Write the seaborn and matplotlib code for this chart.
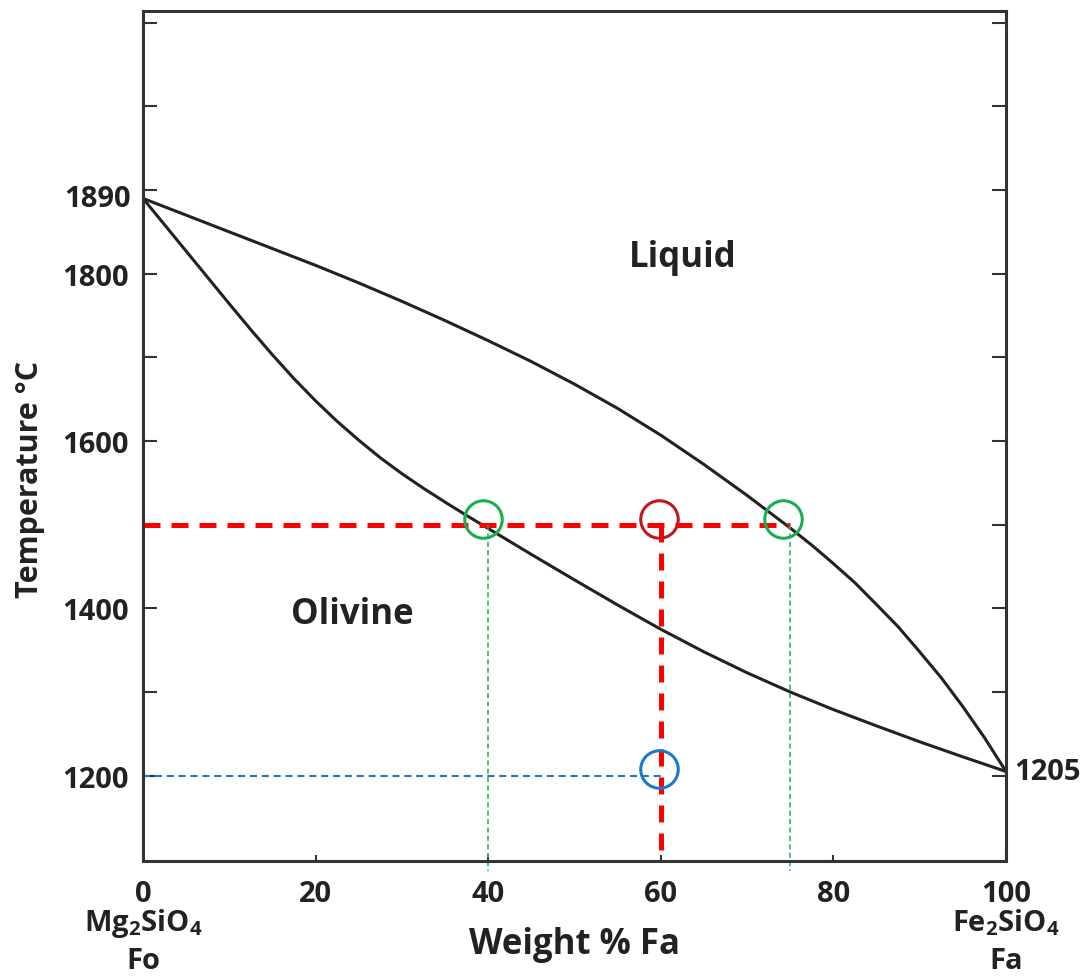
import matplotlib
matplotlib.use("Agg")
import matplotlib.pyplot as plt
import seaborn as sns
import pandas as pd

# Liquidus and solidus of the forsterite-fayalite binary (wt% Fa, deg C)
liq_x = [0, 10, 20, 25, 30, 35, 40, 45, 50, 55, 60, 65, 70, 75, 77.5, 80,
         82.5, 85, 87.5, 90, 92.5, 95, 97.5, 100]
liq_t = [1890, 1850, 1810, 1789, 1767, 1744, 1720, 1695, 1668, 1639, 1607,
         1572, 1535, 1496, 1475.5, 1453.5, 1430.5, 1404.5, 1378, 1348, 1317,
         1282.5, 1245.5, 1205]
sol_x = [0, 5, 10, 12.5, 15, 17.5, 20, 22.5, 25, 27.5, 30, 32.5, 35, 37.5,
         40, 45, 50, 55, 60, 65, 70, 75, 80, 85, 90, 95, 100]
sol_t = [1890, 1827, 1764, 1733, 1703, 1674.5, 1648, 1623.5, 1601, 1580,
         1561, 1543.5, 1527, 1511, 1495.5, 1464.5, 1434, 1404, 1375, 1348,
         1323, 1300, 1279, 1259.5, 1240.5, 1222.5, 1205]

# Bulk composition and tie-line guides
bulk_x = 60
tie_t = 1500
tie_ends = [40, 75]
cool_t = 1200

# Highlighted points (solid, bulk, liquid at 1500; fully solid at 1200)
ring_x = [39.4, 59.8, 74.2, 59.8]
ring_t = [1507, 1507, 1507, 1208]
ring_c = ["#1aaf4e", "#c1171f", "#1aaf4e", "#1a79c9"]

y_ticks = [1200, 1300, 1400, 1500, 1600, 1700, 1800, 1900, 2000, 2100]
y_labels = ["1200", "", "1400", "", "1600", "", "1800", "", "", ""]
x_ticks = [0, 20, 40, 60, 80, 100]

sns.set_theme(style="white")
plt.rcParams["font.family"] = ["Open Sans", "DejaVu Sans"]
plt.rcParams["font.weight"] = "bold"
plt.rcParams["mathtext.fontset"] = "custom"
plt.rcParams["mathtext.rm"] = "Open Sans:bold"
plt.rcParams["mathtext.bf"] = "Open Sans:bold"
plt.rcParams["mathtext.it"] = "Open Sans:bold"

ink = "#222222"
fig = plt.figure(figsize=(10.85, 9.78), dpi=100)
ax = fig.add_axes([0.1318, 0.1186, 0.7954, 0.8691])

curves = pd.concat([
    pd.DataFrame({"x": liq_x, "t": liq_t, "curve": "liquidus"}),
    pd.DataFrame({"x": sol_x, "t": sol_t, "curve": "solidus"}),
])
sns.lineplot(data=curves, x="x", y="t", units="curve", estimator=None,
             sort=False, color=ink, lw=2.2, ax=ax, legend=False)

# guide lines
ax.plot([0, tie_ends[1]], [tie_t, tie_t], color="#ff0000", lw=3.6,
        dashes=(3.4, 2.2))
ax.plot([bulk_x, bulk_x], [tie_t, 1098], color="#ff0000", lw=3.6,
        dashes=(3.4, 2.2))
for tx in tie_ends:
    ax.plot([tx, tx], [tie_t, 1086], color="#1aaf4e", lw=1.1,
            dashes=(3.3, 2.2), clip_on=False)
ax.plot([0, bulk_x], [cool_t, cool_t], color="#1a79c9", lw=1.5,
        dashes=(3.4, 2.3))

for x, t, c in zip(ring_x, ring_t, ring_c):
    ax.plot([x], [t], marker="o", ms=27, mfc="none", mec=c, mew=2.2)

ax.set_xlim(0, 100)
ax.set_ylim(1098, 2114)
ax.set_xticks(x_ticks)
ax.set_xticklabels([str(v) for v in x_ticks])
ax.set_yticks(y_ticks)
ax.set_yticklabels(y_labels)
ax.tick_params(axis="y", direction="in", length=10, width=1.5,
               right=True, left=True, labelsize=21, pad=10, color="#333333")
ax.tick_params(axis="x", direction="in", length=4, width=1.5,
               bottom=True, labelsize=21, pad=13, color="#333333")
for lab in ax.get_xticklabels() + ax.get_yticklabels():
    lab.set_fontweight("bold")
    lab.set_color(ink)
for sp in ax.spines.values():
    sp.set_linewidth(2.2)
    sp.set_color("#333333")

ax.text(-0.0145, 1890, "1890", transform=ax.get_yaxis_transform(),
        ha="right", va="center", fontsize=21, fontweight="bold", color=ink)
ax.text(1.01, 1205, "1205", transform=ax.get_yaxis_transform(),
        ha="left", va="center", fontsize=21, fontweight="bold", color=ink)

for xv, formula, abbr in [(0, "Mg$_2$SiO$_4$", "Fo"), (100, "Fe$_2$SiO$_4$", "Fa")]:
    ax.text(xv, -0.053, formula, transform=ax.get_xaxis_transform(),
            ha="center", va="top", fontsize=21, fontweight="bold", color=ink)
    ax.text(xv, -0.1, abbr, transform=ax.get_xaxis_transform(),
            ha="center", va="top", fontsize=21, fontweight="bold", color=ink)

ax.set_xlabel("Weight % Fa", fontsize=25, fontweight="bold", color=ink)
ax.xaxis.set_label_coords(0.5, -0.098, transform=ax.transAxes)
ax.xaxis.label.set_va("center")
ax.set_ylabel("Temperature °C", fontsize=22, fontweight="bold", color=ink)
ax.yaxis.set_label_coords(-0.131, 0.45, transform=ax.transAxes)
ax.yaxis.label.set_va("center")

ax.text(62.5, 1820, "Liquid", ha="center", va="center", fontsize=25,
        fontweight="bold", color=ink)
ax.text(24.2, 1393, "Olivine", ha="center", va="center", fontsize=25,
        fontweight="bold", color=ink)

fig.savefig("out.png", dpi=100, facecolor="white")
